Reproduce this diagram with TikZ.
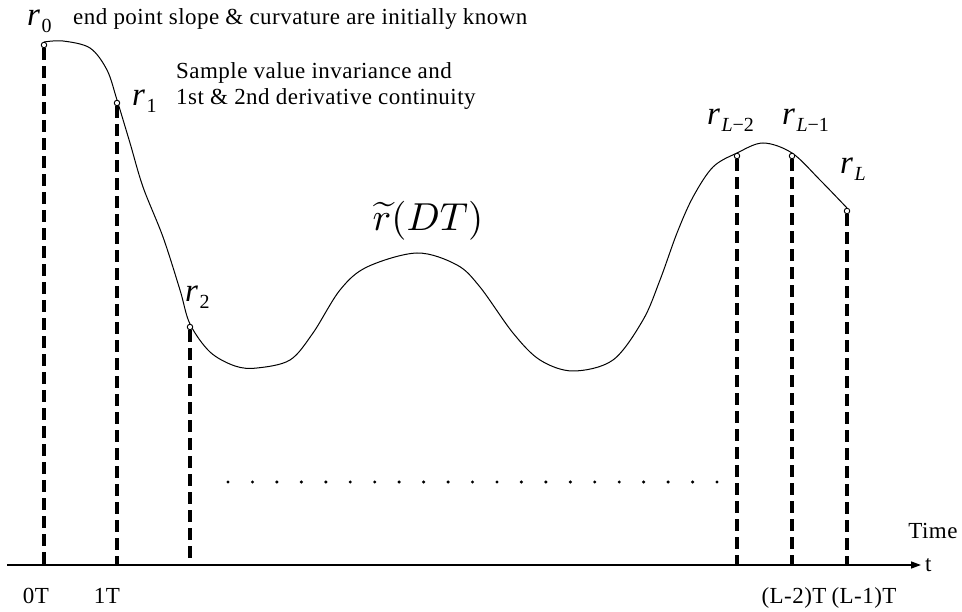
\documentclass[tikz,border=0pt]{standalone}
\usepackage{fontspec}
\setmainfont{Liberation Serif}
\newfontfamily\lblfont[LetterSpace=2]{Liberation Serif}
\newfontfamily\rfont{Liberation Serif}
\usetikzlibrary{arrows.meta}
\tikzset{
  lbl/.style={inner sep=0pt, anchor=base west, font=\lblfont\fontsize{23}{26}\selectfont},
  tick/.style={inner sep=0pt, anchor=base, font=\lblfont\fontsize{23}{26}\selectfont},
  rlab/.style={inner sep=0pt, anchor=base west},
  sample/.style={circle, draw, fill=white, inner sep=0pt, minimum size=5.5pt, line width=0.9pt},
  drop/.style={line width=3.2pt, dash pattern=on 12pt off 6pt},
  timeaxis/.style={line width=1.4pt, -{Triangle[length=10pt,width=7pt]}},
  curveline/.style={line width=1pt},
  dotmark/.style={circle, fill, inner sep=0pt, minimum size=3.4pt},
}
\newcommand\rsym[1]{{\rfont\fontsize{33}{33}\selectfont\itshape r}\kern1.5pt\raisebox{-7pt}{\rfont\fontsize{20}{20}\selectfont #1}}
\begin{document}
\begin{tikzpicture}[x=1pt,y=-1pt]
\useasboundingbox (0,0) rectangle (962,612);
% curve
\draw[curveline] plot[smooth, tension=0.55] coordinates {
 (44,42) (63,41) (90,48) (107,70) (117,100) (130,143) (143,187) (163,237) (180,290) (190,324)
 (210,352) (235,366) (257,368) (290,360) (313,333) (340,290) (367,267) (417,253) (457,265)
 (480,287) (513,333) (540,360) (573,371) (613,360) (643,320) (660,280) (677,233) (693,197)
 (713,167) (737,153) (763,143) (792,153) (820,180) (847,208)};
% axis
\coordinate (axstart) at (7,565);
\coordinate (axend) at (921,565);
\draw[timeaxis] (axstart) -- (axend);
\coordinate (b0) at (44,565);
\coordinate (b1) at (117,565);
\coordinate (b2) at (190,565);
\coordinate (bL2) at (737,565);
\coordinate (bL1) at (792,565);
\coordinate (bL) at (847,565);
% sample points
\node[sample] (s0) at (44,45) {};
\node[sample] (s1) at (117,103) {};
\node[sample] (s2) at (190,327) {};
\node[sample] (sL2) at (737,156) {};
\node[sample] (sL1) at (792,156) {};
\node[sample] (sL) at (847,211) {};
\draw[drop] (s0) -- (b0);
\draw[drop] (s1) -- (b1);
\draw[drop] (s2) -- (b2);
\draw[drop] (sL2) -- (bL2);
\draw[drop] (sL1) -- (bL1);
\draw[drop] (sL) -- (bL);
% dots
\foreach \i in {0,...,20} \node[dotmark] (dot\i) at ({228+\i*24.45},482) {};
% labels
\node[rlab] (r0) at (27,26) {\rsym{0}};
\node[rlab] (r1) at (132,106) {\rsym{1}};
\node[rlab] (r2) at (185,302) {\rsym{2}};
\node[rlab] (rL2) at (707,125) {\rsym{\textit{L}−2}};
\node[rlab] (rL1) at (782,125) {\rsym{\textit{L}−1}};
\node[rlab] (rL) at (840,174) {\rsym{\textit{L}}};
\node[lbl] (t0) at (73,25) {end point slope \& curvature are initially known};
\node[lbl] (t1) at (176,79) {Sample value invariance and};
\node[lbl] (t2) at (176,105) {1st \& 2nd derivative continuity};
\node[inner sep=0pt] (rt) at (428,221) {\scalebox{3.9}{$\widetilde{r}(DT)$}};
\node[tick] (l0) at (36,603) {0T};
\node[tick] (l1) at (107,603) {1T};
\node[tick] (lL2) at (794,603) {(L-2)T};
\node[tick] (lL1) at (864,603) {(L-1)T};
\node[tick] (time) at (933,538) {Time};
\node[lbl, anchor=west] (tt) at (925,565) {t};
\end{tikzpicture}
\end{document}
